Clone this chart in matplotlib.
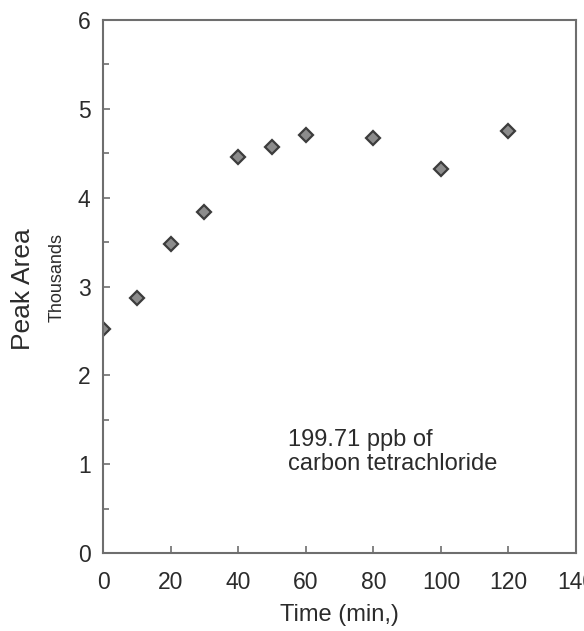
import matplotlib.pyplot as plt
from matplotlib.ticker import MultipleLocator

# Peak area (thousands) of carbon tetrachloride versus time
time_min = [0, 10, 20, 30, 40, 50, 60, 80, 100, 120]
peak_area_k = [2.52, 2.87, 3.48, 3.84, 4.46, 4.57, 4.70, 4.67, 4.32, 4.75]
x_ticks = [0, 20, 40, 60, 80, 100, 120, 140]
y_ticks = [0, 1, 2, 3, 4, 5, 6]

plt.rcParams['font.family'] = ['Liberation Sans', 'DejaVu Sans']
text_col = '#2b2b2b'
axis_col = '#6e6e6e'

fig = plt.figure(figsize=(5.84, 6.31), dpi=100)
ax = fig.add_axes([0.1764, 0.1236, 0.810, 0.8447])

ax.plot(time_min, peak_area_k, linestyle='none', marker='D', markersize=7.5,
        markerfacecolor='#8c8c8c', markeredgecolor='#3c3c3c', markeredgewidth=1.6)

ax.set_xlim(0, 140)
ax.set_ylim(0, 6)
ax.set_xticks(x_ticks)
ax.set_yticks(y_ticks)
ax.yaxis.set_minor_locator(MultipleLocator(0.5))

for side in ax.spines.values():
    side.set_color(axis_col)
    side.set_linewidth(1.5)

ax.tick_params(which='both', direction='in', color=axis_col, width=1.2,
               labelcolor=text_col, labelsize=16.5)
ax.tick_params(which='major', length=5)
ax.tick_params(which='minor', length=4)
ax.tick_params(axis='x', pad=13)
ax.tick_params(axis='y', pad=9)

ax.set_xlabel('Time (min,)', fontsize=17, color=text_col, labelpad=7)
fig.text(0.040, 0.542, 'Peak Area', rotation=90, fontsize=19,
         color=text_col, ha='center', va='center')
fig.text(0.097, 0.560, 'Thousands', rotation=90, fontsize=13,
         color=text_col, ha='center', va='center')

ax.text(0.392, 0.19, '199.71 ppb of\ncarbon tetrachloride', transform=ax.transAxes,
        fontsize=17, color=text_col, ha='left', va='center', linespacing=1.1)

fig.savefig('out.png', dpi=100)
